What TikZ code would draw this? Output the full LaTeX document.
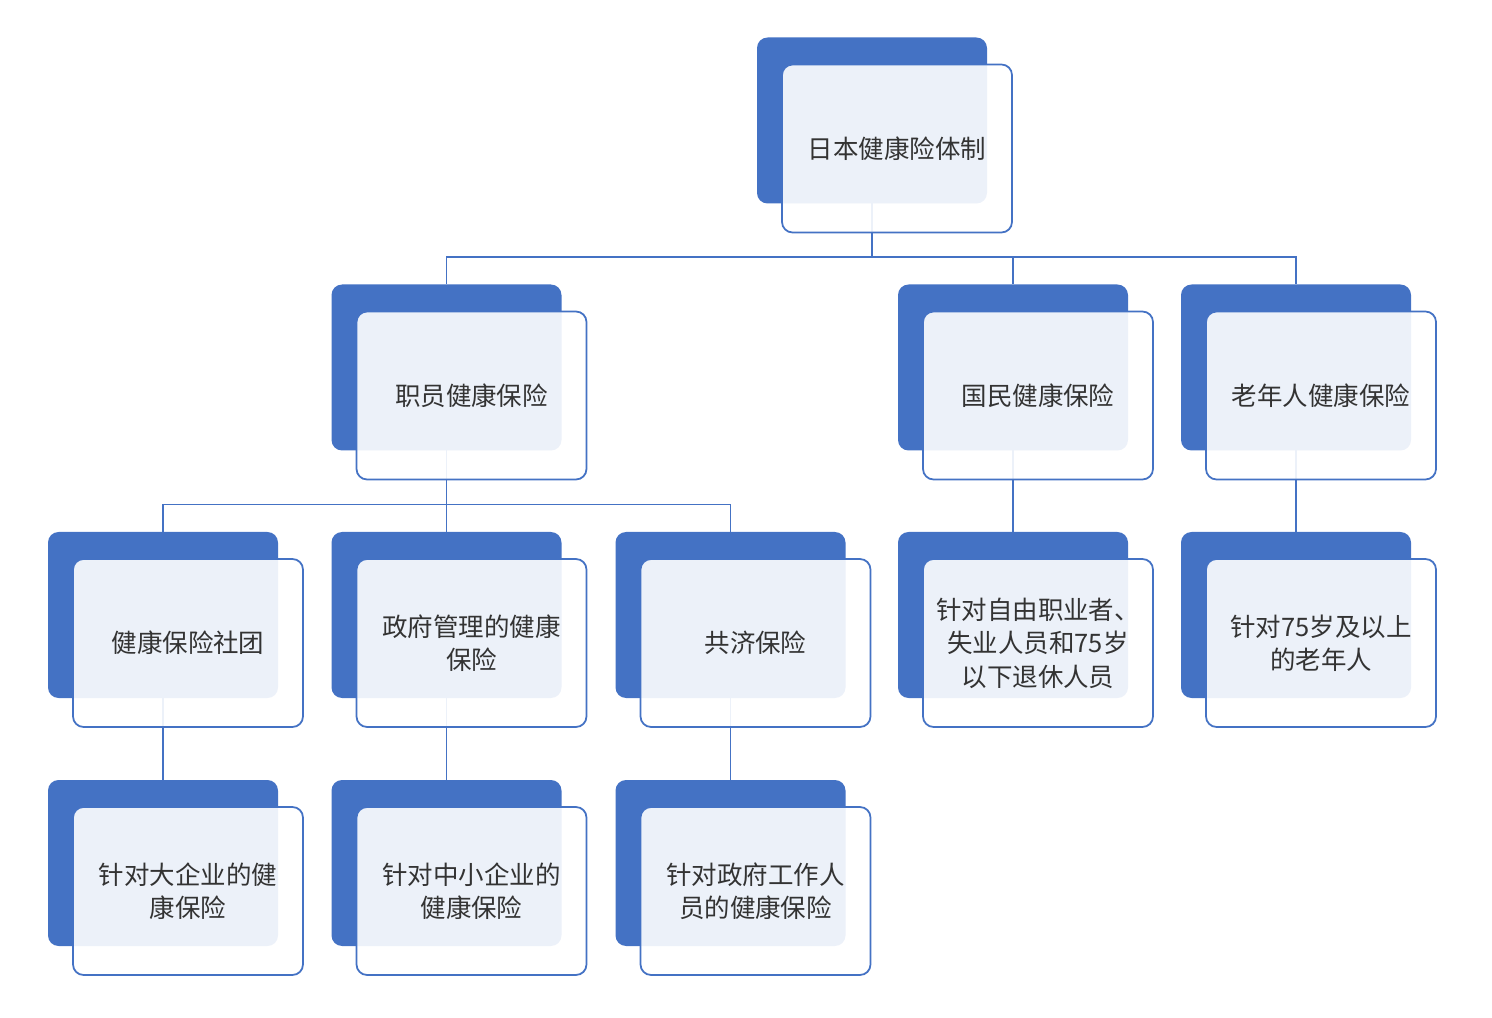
\documentclass[tikz,border=0pt]{standalone}
\usepackage{fontspec}
\newfontfamily\cjk{Noto Sans CJK SC}[Scale=1]
\usetikzlibrary{positioning,calc}
\definecolor{cardblue}{HTML}{4472C4}
\tikzset{
  back/.style={fill=cardblue,draw=none,rounded corners=6pt,minimum width=4.6cm,minimum height=3.32cm,inner sep=0pt},
  front/.style={fill=white,fill opacity=0.9,text opacity=1,draw=cardblue,line width=1pt,rounded corners=6pt,
    minimum width=4.6cm,minimum height=3.36cm,align=center,
    font=\cjk\fontsize{14.5}{19}\selectfont,text=black!80},
  link/.style={draw=cardblue,line width=0.8pt}
}
\newcommand{\card}[4]{%
  \node[back] (#1) at (#2,#3) {};
  \node[front] (#1f) at ($(#1)+(0.5,-0.56)$) {#4};
}
\begin{document}
\begin{tikzpicture}
\useasboundingbox (0,0) rectangle (29.84,-20.36);
% connectors
\coordinate (top) at (17.44,-2.41);
\coordinate (emp) at (8.93,-7.35);
\coordinate (nat) at (20.26,-7.35);
\coordinate (old) at (25.92,-7.35);
\coordinate (soc) at (3.26,-12.3);
\coordinate (gov) at (8.93,-12.3);
\coordinate (mut) at (14.61,-12.3);
\coordinate (fre) at (20.26,-12.3);
\coordinate (sen) at (25.92,-12.3);
\coordinate (big) at (3.26,-17.26);
\coordinate (sml) at (8.93,-17.26);
\coordinate (pub) at (14.61,-17.26);
\foreach \a/\b in {top/emp,top/nat,top/old}
  \draw[link] ($(\a)+(0,-1.65)$) -- ++(0,-1.08) -| ($(\b)+(0,1.66)$);
\foreach \a/\b in {emp/soc,emp/gov,emp/mut}
  \draw[link] ($(\a)+(0,-1.66)$) -- ++(0,-1.08) -| ($(\b)+(0,1.66)$);
\foreach \a/\b in {nat/fre,old/sen,soc/big,gov/sml,mut/pub}
  \draw[link] ($(\a)+(0,-1.66)$) -- ($(\b)+(0,1.66)$);
% cards
\card{c0}{17.44}{-2.41}{日本健康险体制}
\card{c1}{8.93}{-7.35}{职员健康保险}
\card{c2}{20.26}{-7.35}{国民健康保险}
\card{c3}{25.92}{-7.35}{老年人健康保险}
\card{c4}{3.26}{-12.3}{健康保险社团}
\card{c5}{8.93}{-12.3}{政府管理的健康\\保险}
\card{c6}{14.61}{-12.3}{共济保险}
\card{c7}{20.26}{-12.3}{针对自由职业者、\\失业人员和75岁\\以下退休人员}
\card{c8}{25.92}{-12.3}{针对75岁及以上\\的老年人}
\card{c9}{3.26}{-17.26}{针对大企业的健\\康保险}
\card{c10}{8.93}{-17.26}{针对中小企业的\\健康保险}
\card{c11}{14.61}{-17.26}{针对政府工作人\\员的健康保险}
\end{tikzpicture}
\end{document}
